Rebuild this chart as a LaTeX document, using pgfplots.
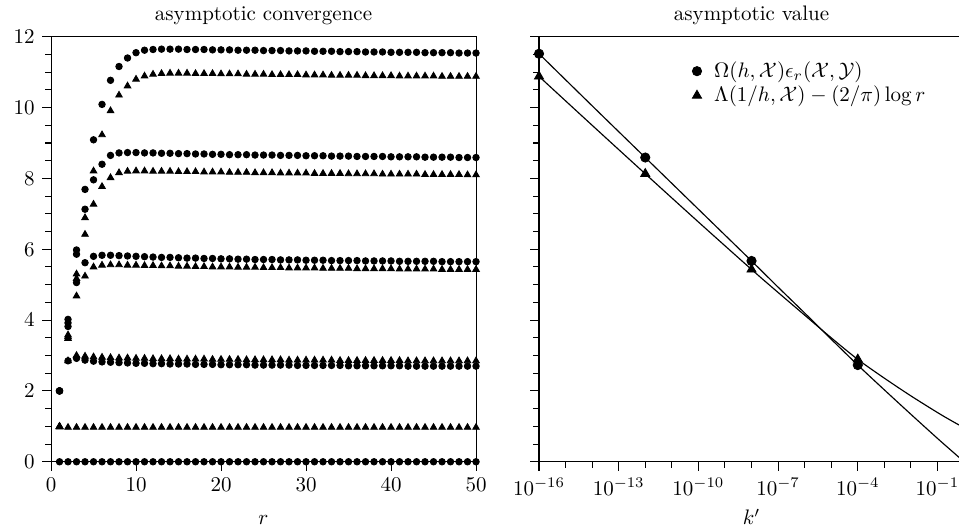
\documentclass[border=0pt]{standalone}
\usepackage{pgfplots}
\usepackage{pgfplotstable}
\pgfplotsset{compat=1.18}
\usetikzlibrary{calc}

% r, then circle / triangle values for k' = 1e-16, 1e-12, 1e-8, 1e-4, 1
\pgfplotstableread{
r  ac    at    bc   bt   cc   ct   dc   dt   ec   et
1  2.00  0.99  2.00 0.99 2.00 0.99 2.00 0.99 0.00 1.00
2  4.02  3.58  3.92 3.53 3.82 3.48 2.85 2.85 0.00 0.97
3  5.98  5.30  5.86 5.17 5.06 4.68 2.92 3.00 0.00 0.97
4  7.69  6.89  7.13 6.42 5.62 5.24 2.87 2.98 0.00 0.97
5  9.09  8.21  7.96 7.27 5.80 5.50 2.84 2.96 0.00 0.97
6  10.09 9.23  8.40 7.77 5.83 5.55 2.82 2.95 0.00 0.97
7  10.77 9.91  8.65 8.02 5.83 5.56 2.81 2.94 0.00 0.97
8  11.16 10.35 8.72 8.16 5.82 5.56 2.80 2.93 0.00 0.97
9  11.40 10.61 8.73 8.20 5.81 5.55 2.79 2.93 0.00 0.97
10 11.55 10.80 8.73 8.21 5.80 5.55 2.78 2.92 0.00 0.97
11 11.62 10.89 8.72 8.21 5.79 5.54 2.78 2.92 0.00 0.97
12 11.64 10.94 8.72 8.20 5.78 5.54 2.77 2.91 0.00 0.97
13 11.65 10.96 8.71 8.20 5.77 5.53 2.77 2.91 0.00 0.97
14 11.65 10.97 8.71 8.20 5.77 5.53 2.76 2.91 0.00 0.97
15 11.65 10.97 8.70 8.19 5.76 5.52 2.76 2.90 0.00 0.97
16 11.64 10.97 8.70 8.19 5.75 5.52 2.76 2.90 0.00 0.97
17 11.64 10.96 8.69 8.19 5.75 5.51 2.75 2.90 0.00 0.97
18 11.64 10.96 8.69 8.18 5.74 5.51 2.75 2.90 0.00 0.97
19 11.63 10.96 8.68 8.18 5.74 5.50 2.75 2.89 0.00 0.97
20 11.63 10.95 8.68 8.18 5.73 5.50 2.74 2.89 0.00 0.97
21 11.63 10.95 8.67 8.17 5.73 5.50 2.74 2.89 0.00 0.97
22 11.62 10.95 8.67 8.17 5.72 5.49 2.74 2.89 0.00 0.97
23 11.62 10.94 8.67 8.17 5.72 5.49 2.74 2.88 0.00 0.97
24 11.62 10.94 8.66 8.16 5.71 5.49 2.73 2.88 0.00 0.97
25 11.61 10.94 8.66 8.16 5.71 5.48 2.73 2.88 0.00 0.97
26 11.61 10.93 8.66 8.16 5.71 5.48 2.73 2.88 0.00 0.97
27 11.61 10.93 8.65 8.15 5.70 5.48 2.73 2.88 0.00 0.97
28 11.60 10.93 8.65 8.15 5.70 5.47 2.73 2.87 0.00 0.97
29 11.60 10.93 8.65 8.15 5.70 5.47 2.72 2.87 0.00 0.97
30 11.60 10.92 8.64 8.15 5.69 5.47 2.72 2.87 0.00 0.97
31 11.59 10.92 8.64 8.14 5.69 5.47 2.72 2.87 0.00 0.97
32 11.59 10.92 8.64 8.14 5.69 5.46 2.72 2.87 0.00 0.97
33 11.59 10.91 8.63 8.14 5.68 5.46 2.72 2.87 0.00 0.97
34 11.58 10.91 8.63 8.14 5.68 5.46 2.72 2.86 0.00 0.97
35 11.58 10.91 8.63 8.13 5.68 5.46 2.71 2.86 0.00 0.97
36 11.58 10.91 8.62 8.13 5.68 5.45 2.71 2.86 0.00 0.97
37 11.57 10.90 8.62 8.13 5.67 5.45 2.71 2.86 0.00 0.97
38 11.57 10.90 8.62 8.13 5.67 5.45 2.71 2.86 0.00 0.97
39 11.57 10.90 8.62 8.12 5.67 5.45 2.71 2.86 0.00 0.97
40 11.56 10.90 8.61 8.12 5.67 5.45 2.71 2.86 0.00 0.97
41 11.56 10.89 8.61 8.12 5.66 5.44 2.71 2.86 0.00 0.97
42 11.56 10.89 8.61 8.12 5.66 5.44 2.70 2.85 0.00 0.97
43 11.56 10.89 8.61 8.12 5.66 5.44 2.70 2.85 0.00 0.97
44 11.55 10.89 8.60 8.11 5.66 5.44 2.70 2.85 0.00 0.97
45 11.55 10.89 8.60 8.11 5.66 5.44 2.70 2.85 0.00 0.97
46 11.55 10.88 8.60 8.11 5.65 5.43 2.70 2.85 0.00 0.97
47 11.55 10.88 8.60 8.11 5.65 5.43 2.70 2.85 0.00 0.97
48 11.54 10.88 8.59 8.11 5.65 5.43 2.70 2.85 0.00 0.97
49 11.54 10.88 8.59 8.10 5.65 5.43 2.70 2.85 0.00 0.97
50 11.54 10.88 8.59 8.10 5.65 5.43 2.70 2.85 0.00 0.97
}\convdata

\pgfplotsset{
  every axis title/.style={at={(axis description cs:0.5,1)}, anchor=base, yshift=7.6pt},
  panel/.style={
    scale only axis, width=202.4pt, height=202.4pt,
    ymin=0, ymax=12,
    ytick={0,2,...,12}, minor y tick num=3,
    tick align=outside, xtick pos=bottom, ytick pos=left,
    axis line style={line width=0.5pt}, every tick/.style={black, line width=0.5pt},
    xlabel style={at={(axis description cs:0.5,0)}, anchor=base, yshift=-30.1pt},
  },
  circ/.style={only marks, mark=*, mark size=1.55pt, black},
  tri/.style={only marks, mark=triangle*, mark size=1.8pt, black},
}

\begin{document}
\begin{tikzpicture}
\begin{axis}[panel, name=L, at={(0,0)}, anchor=south west,
    xmin=0, xmax=50, xtick={0,10,...,50},
    xlabel={$r$}, title={asymptotic convergence}, clip=false]
  \addplot[tri]  table[x=r, y=et] {\convdata};
  \addplot[circ] table[x=r, y=ec] {\convdata};
  \addplot[tri]  table[x=r, y=dt] {\convdata};
  \addplot[circ] table[x=r, y=dc] {\convdata};
  \addplot[tri]  table[x=r, y=ct] {\convdata};
  \addplot[circ] table[x=r, y=cc] {\convdata};
  \addplot[tri]  table[x=r, y=bt] {\convdata};
  \addplot[circ] table[x=r, y=bc] {\convdata};
  \addplot[tri]  table[x=r, y=at] {\convdata};
  \addplot[circ] table[x=r, y=ac] {\convdata};
\end{axis}

\begin{axis}[panel, name=R, at={($(L.south east)+(30pt,0)$)}, anchor=south west,
    xmode=log, log basis x=10, xmin=1e-16, xmax=1,
    xtick={1e-16,1e-13,1e-10,1e-7,1e-4,1e-1},
    minor xtick={1e-15,1e-14,1e-12,1e-11,1e-9,1e-8,1e-6,1e-5,1e-3,1e-2},
    yticklabels={},
    xlabel={$k'$}, title={asymptotic value},
    legend cell align=left,
    legend style={at={(axis description cs:0.345,0.962)}, anchor=north west,
      draw=none, fill=none, row sep=-1.4pt,
      /tikz/every odd column/.append style={column sep=4pt}}]
  \addplot[black, line width=0.55pt, smooth, forget plot] coordinates {
    (1e-16,11.52) (1e-14,10.05) (1e-12,8.59) (1e-10,7.13) (1e-8,5.67)
    (1e-7,4.93) (1e-6,4.20) (1e-5,3.46) (1e-4,2.73) (1e-3,2.03)
    (1e-2,1.34) (1e-1,0.66) (0.316,0.33) (1,0.00)};
  \addplot[black, line width=0.55pt, smooth, forget plot] coordinates {
    (1e-16,10.88) (1e-14,9.50) (1e-12,8.13) (1e-10,6.77) (1e-8,5.43)
    (1e-7,4.78) (1e-6,4.14) (1e-5,3.50) (1e-4,2.89) (1e-3,2.36)
    (1e-2,1.86) (1e-1,1.39) (0.316,1.17) (1,0.96)};
  \addplot[only marks, mark=*, mark size=2.2pt, black] coordinates {
    (1e-16,11.52) (1e-12,8.59) (1e-8,5.67) (1e-4,2.73)};
  \addlegendentry{$\Omega(h,\mathcal{X})\epsilon_r(\mathcal{X},\mathcal{Y})$}
  \addplot[only marks, mark=triangle*, mark size=2.5pt, black] coordinates {
    (1e-16,10.88) (1e-12,8.13) (1e-8,5.43) (1e-4,2.89)};
  \addlegendentry{$\Lambda(1/h,\mathcal{X})-(2/\pi)\log r$}
\end{axis}

\pgfresetboundingbox
\path[use as bounding box] (-24.3pt,-32.0pt) rectangle (432.4pt,219.9pt);
\end{tikzpicture}
\end{document}
